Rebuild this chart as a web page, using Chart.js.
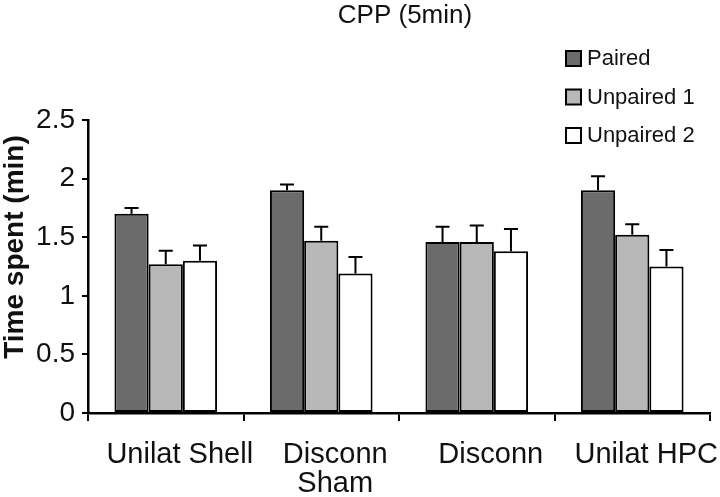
<!DOCTYPE html>
<html>
<head>
<meta charset="utf-8">
<script src="https://cdn.jsdelivr.net/npm/chart.js@4.4.1/dist/chart.umd.min.js"></script>
<style>
  html, body { margin: 0; padding: 0; background: #fff; }
  #wrap { width: 720px; height: 497px; }
</style>
</head>
<body>
<div id="wrap"><canvas id="cpp" width="720" height="497"></canvas></div>
<script>
// --- data ---
const groups = ['Unilat Shell', ['Disconn', 'Sham'], 'Disconn', 'Unilat HPC'];
const seriesNames = ['Paired', 'Unpaired 1', 'Unpaired 2'];
const paired = [1.70, 1.90, 1.46, 1.90];
const pairedErr = [0.05, 0.05, 0.13, 0.12];
const unpaired1 = [1.27, 1.47, 1.46, 1.52];
const unpaired1Err = [0.115, 0.12, 0.14, 0.09];
const unpaired2 = [1.30, 1.19, 1.38, 1.25];
const unpaired2Err = [0.13, 0.14, 0.19, 0.14];
const yTicks = [0, 0.5, 1, 1.5, 2, 2.5];

const FONT = '"Liberation Sans", Arial, Helvetica, sans-serif';
const fills = ['#6b6b6b', '#b8b8b8', '#ffffff'];

function makeSet(i, values, errs) {
    return {
        label: seriesNames[i],
        data: values,
        errors: errs,
        backgroundColor: fills[i],
        borderColor: '#000',
        borderWidth: 2,
        borderSkipped: false,
        barPercentage: 1.0,
        categoryPercentage: 0.66
    };
}

// error bars (upper only), title, legend and y title
const extras = {
    id: 'extras',
    afterDatasetsDraw(chart) {
        const c = chart.ctx;
        const y = chart.scales.y;
        c.save();
        c.strokeStyle = '#000';
        c.lineWidth = 2;
        chart.data.datasets.forEach((ds, i) => {
            const meta = chart.getDatasetMeta(i);
            meta.data.forEach((bar, j) => {
                const top = y.getPixelForValue(ds.data[j] + ds.errors[j]);
                c.beginPath();
                c.moveTo(bar.x, bar.y);
                c.lineTo(bar.x, top);
                c.moveTo(bar.x - 7, top);
                c.lineTo(bar.x + 7, top);
                c.stroke();
            });
        });
        c.restore();
    },
    afterDraw(chart) {
        const c = chart.ctx;
        const area = chart.chartArea;
        c.save();
        c.fillStyle = '#111';
        // title
        c.font = '26px ' + FONT;
        c.textAlign = 'center';
        c.textBaseline = 'middle';
        c.fillText('CPP (5min)', (area.left + area.right) / 2 + 6, 16);

        // y title
        c.save();
        c.translate(15, 247);
        c.rotate(-Math.PI / 2);
        c.font = 'bold 28px ' + FONT;
        c.fillText('Time spent (min)', 0, 0);
        c.restore();

        // legend
        c.font = '22px ' + FONT;
        c.textAlign = 'left';
        const bx = area.right - 144;
        chart.data.datasets.forEach((ds, i) => {
            const cy = 58 + i * 38.5;
            c.fillStyle = ds.backgroundColor;
            c.fillRect(bx, cy - 7, 15, 15);
            c.strokeStyle = '#000';
            c.lineWidth = 2;
            c.strokeRect(bx, cy - 7, 15, 15);
            c.fillStyle = '#111';
            c.fillText(ds.label, bx + 21, cy + 1);
        });
        c.restore();
    }
};

new Chart(document.getElementById('cpp'), {
    type: 'bar',
    data: {
        labels: groups,
        datasets: [
            makeSet(0, paired, pairedErr),
            makeSet(1, unpaired1, unpaired1Err),
            makeSet(2, unpaired2, unpaired2Err)
        ]
    },
    options: {
        responsive: false,
        animation: false,
        layout: { padding: { top: 120, right: 10, left: 0, bottom: 0 } },
        scales: {
            x: {
                afterFit(scale) {
                    scale.height = 84;
                    scale.paddingLeft = 0;
                    scale.paddingRight = 0;
                },
                grid: {
                    drawOnChartArea: false,
                    drawTicks: true,
                    tickLength: 8,
                    color: '#000',
                    lineWidth: 2
                },
                border: { display: true, color: '#000', width: 2.5 },
                ticks: {
                    color: '#111',
                    padding: 19,
                    labelOffset: 14,
                    maxRotation: 0,
                    autoSkip: false,
                    font: { family: FONT, size: 29, lineHeight: 1.0 }
                }
            },
            y: {
                min: 0,
                max: 2.5,
                afterFit(scale) { scale.width = 88; },
                afterBuildTicks(scale) {
                    scale.ticks = yTicks.map(v => ({ value: v }));
                },
                grid: {
                    drawOnChartArea: false,
                    drawTicks: true,
                    tickLength: 6,
                    color: '#000',
                    lineWidth: 2
                },
                border: { display: true, color: '#000', width: 2.5 },
                ticks: {
                    color: '#111',
                    padding: 7,
                    font: { family: FONT, size: 28 },
                    callback: v => String(v)
                }
            }
        },
        plugins: {
            legend: { display: false },
            title: { display: false },
            tooltip: { enabled: false }
        }
    },
    plugins: [extras]
});
</script>
</body>
</html>
